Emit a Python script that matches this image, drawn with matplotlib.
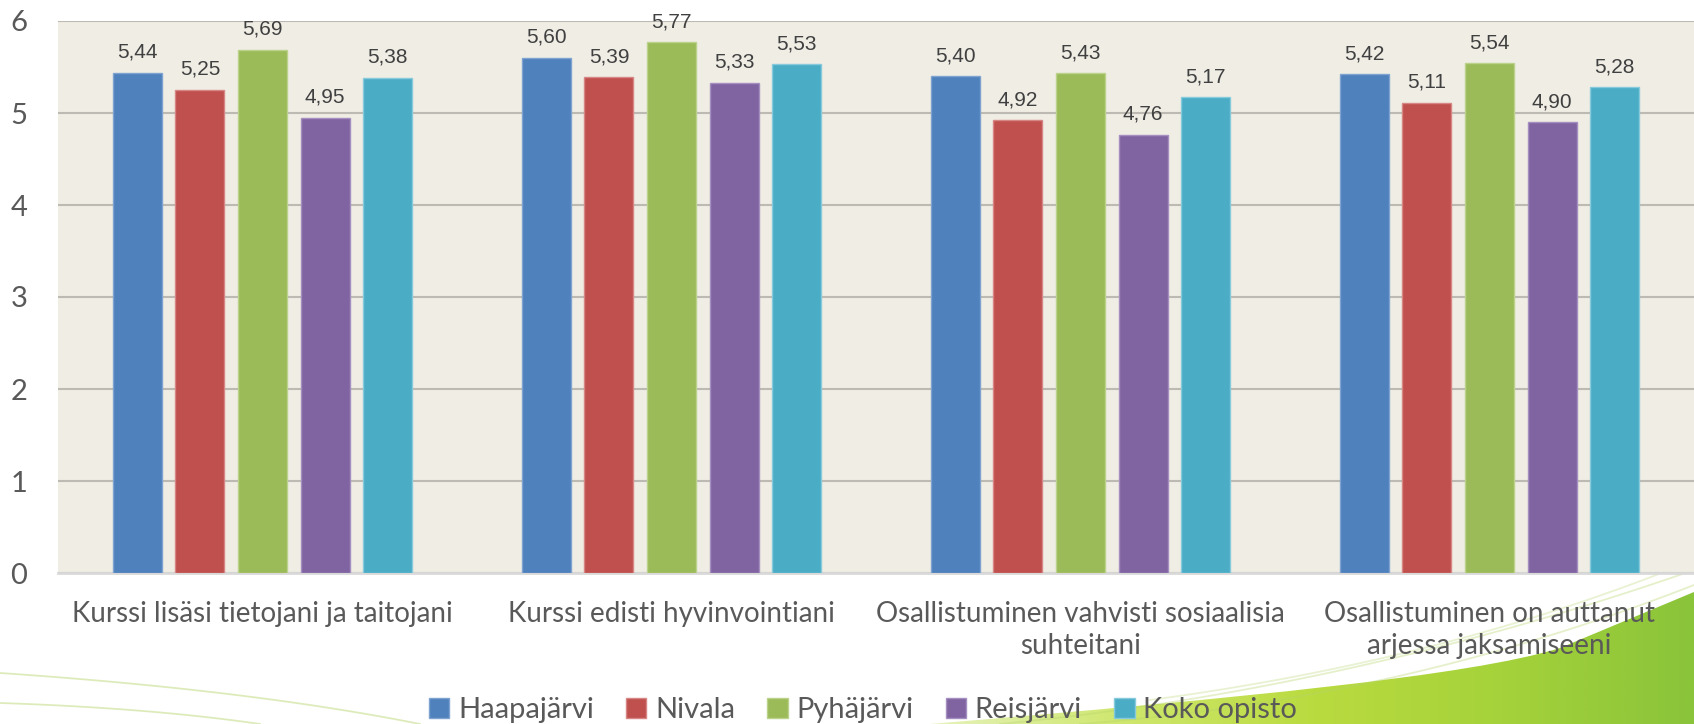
import numpy as np
import matplotlib
matplotlib.use("Agg")
import matplotlib.pyplot as plt
from matplotlib.path import Path
from matplotlib.patches import PathPatch

categories = [
    "Kurssi lisäsi tietojani ja taitojani",
    "Kurssi edisti hyvinvointiani",
    "Osallistuminen vahvisti sosiaalisia\nsuhteitani",
    "Osallistuminen on auttanut\narjessa jaksamiseeni",
]
series_names = ["Haapajärvi", "Nivala", "Pyhäjärvi", "Reisjärvi", "Koko opisto"]
haapajarvi = [5.44, 5.60, 5.40, 5.42]
nivala = [5.25, 5.39, 4.92, 5.11]
pyhajarvi = [5.69, 5.77, 5.43, 5.54]
reisjarvi = [4.95, 5.33, 4.76, 4.90]
koko_opisto = [5.38, 5.53, 5.17, 5.28]
colors = ["#4F81BD", "#C0504D", "#9BBB59", "#8064A2", "#4BACC6"]
edges = ["#7FA3D1", "#D68684", "#BBD28A", "#A58FC0", "#86CADB"]

W, H = 1694, 724
fig = plt.figure(figsize=(W / 100, H / 100), dpi=100)

# background decoration (green swoosh in the bottom right corner), pixel coords
bg = fig.add_axes([0, 0, 1, 1], zorder=-5)
bg.set_xlim(0, W)
bg.set_ylim(H, 0)
bg.axis("off")
grad = np.linspace(0, 1, 256).reshape(1, -1)
cmap = matplotlib.colors.LinearSegmentedColormap.from_list(
    "sw", ["#E6F2BC", "#CFE76E", "#BADB40", "#A5D23A", "#8AC43A"])
im = bg.imshow(grad, extent=[930, W, H, 560], cmap=cmap, aspect="auto")
verts = [(930, H), (1240, 698), (1470, 676), (1560, 648), (W, 592), (W, H), (930, H)]
codes = [Path.MOVETO, Path.CURVE4, Path.CURVE4, Path.CURVE4, Path.LINETO, Path.LINETO, Path.CLOSEPOLY]
clip = PathPatch(Path(verts, codes), facecolor="none", edgecolor="none", transform=bg.transData)
bg.add_patch(clip)
im.set_clip_path(clip)


def bez(p0, p1, p2, n=80):
    t = np.linspace(0, 1, n)[:, None]
    p = (1 - t) ** 2 * np.array(p0) + 2 * (1 - t) * t * np.array(p1) + t ** 2 * np.array(p2)
    return p[:, 0], p[:, 1]


# thin swoosh lines
for p0, p1, p2, a in [((0, 673), (250, 690), (420, 724), 0.45),
                      ((0, 703), (150, 708), (260, 724), 0.45),
                      ((1000, 724), (1350, 690), (W, 570), 0.35),
                      ((1080, 724), (1400, 700), (W, 585), 0.35),
                      ((1150, 700), (1450, 660), (W, 560), 0.3)]:
    xs, ys = bez(p0, p1, p2)
    bg.plot(xs, ys, color="#B5D46A", lw=1.3, alpha=a)

ax = fig.add_axes([58 / W, 151 / H, (W - 58) / W, 552 / H])
ax.set_facecolor("#F0EDE5")

x = np.arange(len(categories))
values = [haapajarvi, nivala, pyhajarvi, reisjarvi, koko_opisto]
step = 0.153
width = 0.12
for i, (name, vals) in enumerate(zip(series_names, values)):
    pos = x + (i - 2) * step
    bars = ax.bar(pos, vals, width, color=colors[i], edgecolor=edges[i], linewidth=1,
                  label=name, zorder=3)
    ax.bar_label(bars, labels=[f"{v:.2f}".replace(".", ",") for v in vals], padding=8,
                 fontsize=15, color="#404040", family="Liberation Sans")

ax.set_xlim(-0.5, 3.5)
ax.set_ylim(0, 6)
ax.set_yticks(range(7))
ax.yaxis.grid(True, color="#BDBAB4", lw=1.5, zorder=0)
ax.set_axisbelow(True)
for s in ["top", "right", "left"]:
    ax.spines[s].set_visible(False)
ax.spines["bottom"].set_color("#D9D9D9")
ax.spines["bottom"].set_linewidth(2)
ax.tick_params(axis="y", length=0, pad=22, labelsize=21, labelcolor="#595959")
ax.tick_params(axis="x", length=0, pad=20, labelcolor="#595959")
for lab in ax.get_yticklabels():
    lab.set_family("Lato")
ax.set_xticks(x)
ax.set_xticklabels(categories, fontsize=20, family="Lato", linespacing=1.3)

leg = fig.legend(loc="center", bbox_to_anchor=(863 / W, 1 - 710 / H), ncol=5, frameon=False,
                 prop={"family": "Lato", "size": 21}, handlelength=0.7, handleheight=0.7,
                 handletextpad=0.3, columnspacing=1.1)
for txt in leg.get_texts():
    txt.set_color("#595959")

fig.savefig("out.png", dpi=100, facecolor="white")
